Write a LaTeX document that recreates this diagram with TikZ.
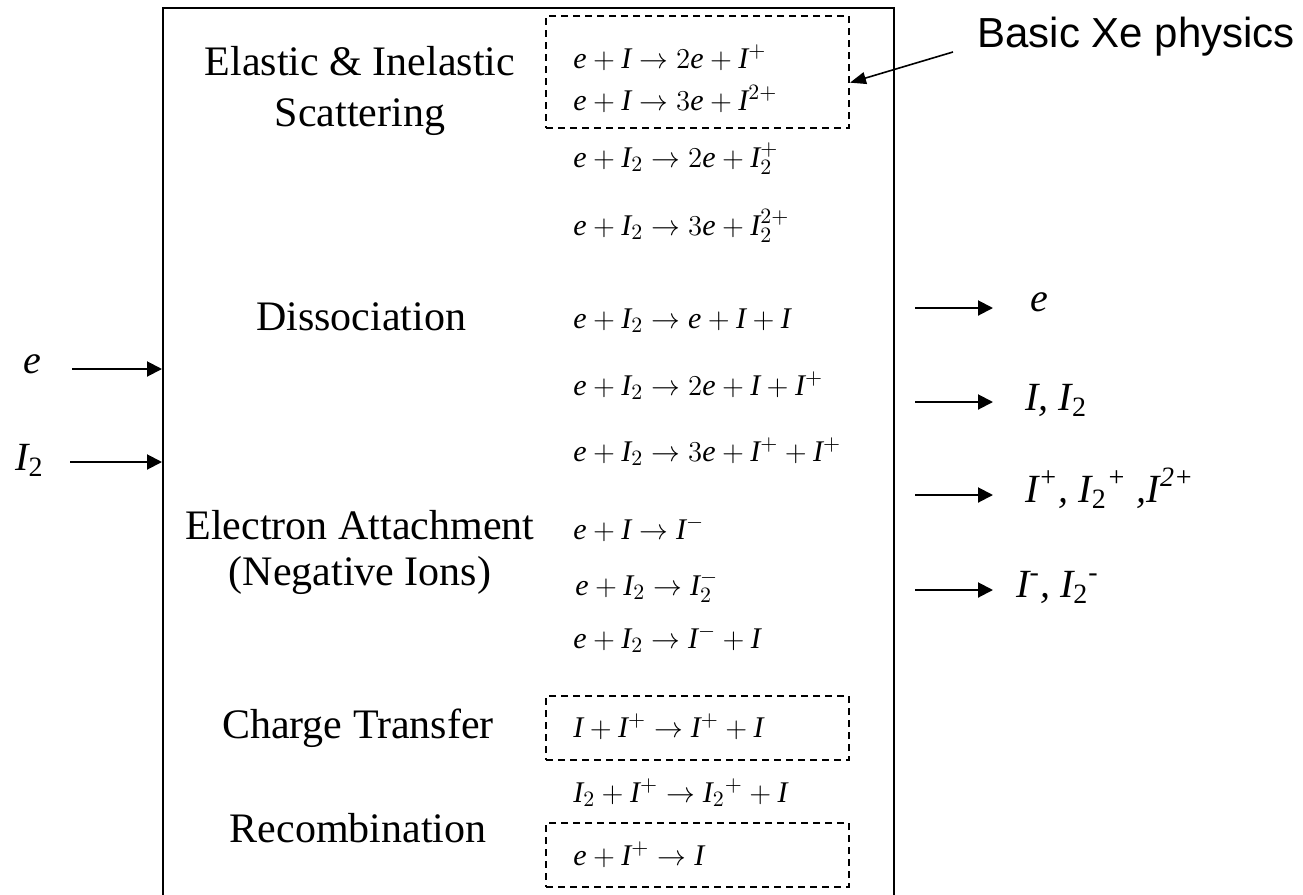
\documentclass[tikz,border=0pt]{standalone}
\usepackage{fontspec}
\setmainfont{Liberation Serif}
\newfontfamily\arialf{Liberation Sans}
\usetikzlibrary{arrows.meta,calc}
\newcommand\ve{\mathit{e}}
\newcommand\vI{\mathit{I}}
\tikzset{
  lab/.style={font=\fontsize{21}{25}\selectfont, inner sep=0pt, anchor=base},
  eqn/.style={font=\fontsize{15}{18}\selectfont, inner sep=0pt, anchor=base west},
  dbox/.style={draw, dash pattern=on 3.5pt off 2.5pt, line width=1pt, inner sep=0pt, minimum width=151.5pt},
  arr/.style={-{Triangle[length=7.5pt,width=7.5pt]}, line width=1pt},
  arrthin/.style={-{Triangle[length=8pt,width=6pt]}, line width=0.8pt},
  io/.style={font=\fontsize{20}{24}\selectfont\itshape, inner sep=0pt, anchor=base west},
}
\begin{document}
\begin{tikzpicture}[x=0.5pt,y=-0.5pt]
\useasboundingbox (0,0) rectangle (1303,895);
% main box (bottom edge lies below the page)
\node[draw, line width=1pt, minimum width=365.5pt, minimum height=466pt, inner sep=0pt] (main) at (528.5,474) {};
% dashed boxes
\node[dbox, minimum height=56pt] (db1) at (697.5,72) {};
\node[dbox, minimum height=32pt] (db2) at (697.5,728) {};
\node[dbox, minimum height=32pt] (db3) at (697.5,855) {};
% category labels
\node[lab] (l1a) at (360,75) {Elastic \& Inelastic};
\node[lab] (l1b) at (360,126) {Scattering};
\node[lab] (l2) at (361,330) {Dissociation};
\node[lab] (l3a) at (360,539) {Electron Attachment};
\node[lab] (l3b) at (360,585) {(Negative Ions)};
\node[lab] (l4) at (358,738) {Charge Transfer};
\node[lab] (l5) at (358,842) {Recombination};
% equations
\node[eqn] (q1) at (573,68) {$\ve+\vI\rightarrow 2\ve+\vI^{+}$};
\node[eqn] (q2) at (573,110) {$\ve+\vI\rightarrow 3\ve+\vI^{2+}$};
\node[eqn] (q3) at (573,167) {$\ve+\vI_2\rightarrow 2\ve+\vI_2^{+}$};
\node[eqn] (q4) at (573,235) {$\ve+\vI_2\rightarrow 3\ve+\vI_2^{2+}$};
\node[eqn] (q5) at (573,328) {$\ve+\vI_2\rightarrow \ve+\vI+\vI$};
\node[eqn] (q6) at (573,395) {$\ve+\vI_2\rightarrow 2\ve+\vI+\vI^{+}$};
\node[eqn] (q7) at (573,461) {$\ve+\vI_2\rightarrow 3\ve+\vI^{+}+\vI^{+}$};
\node[eqn] (q8) at (573,539) {$\ve+\vI\rightarrow \vI^{-}$};
\node[eqn] (q9) at (575,595) {$\ve+\vI_2\rightarrow \vI_2^{-}$};
\node[eqn] (q10) at (573,648) {$\ve+\vI_2\rightarrow \vI^{-}+\vI$};
\node[eqn] (q11) at (573,737) {$\vI+\vI^{+}\rightarrow \vI^{+}+\vI$};
\node[eqn] (q12) at (573,802) {$\vI_2+\vI^{+}\rightarrow \vI_2{}^{+}+\vI$};
\node[eqn] (q13) at (573,865) {$\ve+\vI^{+}\rightarrow \vI$};
% inputs
\node[io] (ein) at (23,373) {e};
\node[io] (iin) at (15,470) {I\textsubscript{\upshape 2}};
\coordinate (ea) at (72,369);
\coordinate (ia) at (70,462);
\draw[arr] (ea) -- (ea -| main.west);
\draw[arr] (ia) -- (ia -| main.west);
% outputs
\coordinate (o1) at (915,308);
\coordinate (o2) at (915,402);
\coordinate (o3) at (915,495);
\coordinate (o4) at (915,590);
\node[io] (out1) at (1030,311) {e};
\node[io] (out2) at (1025,410) {I, I\textsubscript{\upshape 2}};
\node[io] (out3) at (1025,502) {I\textsuperscript{+}, I\textsubscript{\upshape 2}\textsuperscript{+} ,I\textsuperscript{2+}};
\node[io] (out4) at (1016,597) {I\textsuperscript{-}, I\textsubscript{\upshape 2}\textsuperscript{-}};
\draw[arr] (o1) -- ++(78,0);
\draw[arr] (o2) -- ++(78,0);
\draw[arr] (o3) -- ++(78,0);
\draw[arr] (o4) -- ++(78,0);
% annotation
\node[font=\arialf\fontsize{21}{25}\selectfont, inner sep=0pt, anchor=base west] (basic) at (977,47) {Basic Xe physics};
\coordinate (bs) at (953,52);
\draw[arrthin] (bs) -- (db1.-4);
\end{tikzpicture}
\end{document}
